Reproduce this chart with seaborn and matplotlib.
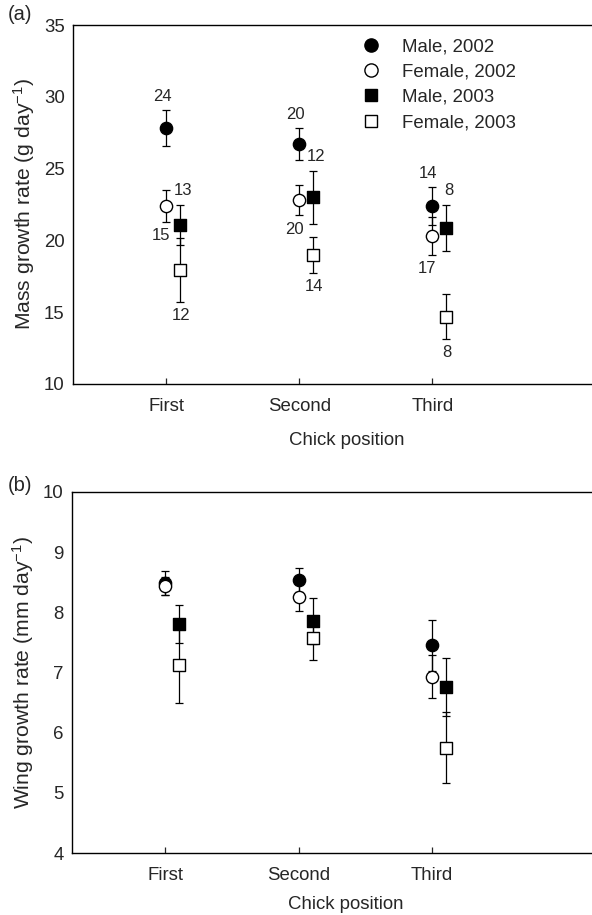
import numpy as np
import pandas as pd
import matplotlib
matplotlib.use("Agg")
import matplotlib.pyplot as plt
import seaborn as sns
from matplotlib.lines import Line2D

# --- data ---
positions = ["First", "Second", "Third"]
groups = ["Male, 2002", "Female, 2002", "Male, 2003", "Female, 2003"]

mass_male_2002 = [27.8, 26.7, 22.4]
mass_male_2002_err = [1.25, 1.1, 1.3]
mass_female_2002 = [22.4, 22.8, 20.3]
mass_female_2002_err = [1.1, 1.05, 1.3]
mass_male_2003 = [21.1, 23.0, 20.85]
mass_male_2003_err = [1.4, 1.85, 1.62]
mass_female_2003 = [17.95, 19.0, 14.7]
mass_female_2003_err = [2.22, 1.27, 1.55]

wing_male_2002 = [8.49, 8.53, 7.45]
wing_male_2002_err = [0.2, 0.2, 0.43]
wing_female_2002 = [8.44, 8.25, 6.93]
wing_female_2002_err = [0.15, 0.22, 0.36]
wing_male_2003 = [7.81, 7.85, 6.76]
wing_male_2003_err = [0.32, 0.38, 0.48]
wing_female_2003 = [7.13, 7.57, 5.75]
wing_female_2003_err = [0.64, 0.37, 0.59]

# sample sizes (panel a)
n_male_2002 = [24, 20, 14]
n_female_2002 = [15, 20, 17]
n_male_2003 = [13, 12, 8]
n_female_2003 = [12, 14, 8]

# --- style ---
sns.set_theme(style="ticks")
plt.rcParams["font.family"] = ["Liberation Sans", "DejaVu Sans"]
plt.rcParams["mathtext.fontset"] = "custom"
plt.rcParams["mathtext.rm"] = "Liberation Sans"
plt.rcParams["mathtext.it"] = "Liberation Sans:italic"
FS = 13.4
FS_YLAB = 15.2

group_style = {
    "Male, 2002":   dict(marker="o", face="black", dx=0.0),
    "Female, 2002": dict(marker="o", face="white", dx=0.0),
    "Male, 2003":   dict(marker="s", face="black", dx=0.105),
    "Female, 2003": dict(marker="s", face="white", dx=0.105),
}
# label offsets in pixels relative to the error bar end
label_offset = {
    "Male, 2002": (-4, 14, "top"),
    "Female, 2002": (-5, -14, "bottom"),
    "Male, 2003": (3, 14, "top"),
    "Female, 2003": (1, -14, "bottom"),
}


def make_df(means, errs):
    rows = []
    for g, m, e in zip(groups, means, errs):
        for i, pos in enumerate(positions):
            rows.append({"group": g, "position": pos,
                         "x": i + group_style[g]["dx"], "y": m[i], "err": e[i]})
    return pd.DataFrame(rows)


mass_df = make_df([mass_male_2002, mass_female_2002, mass_male_2003, mass_female_2003],
                  [mass_male_2002_err, mass_female_2002_err, mass_male_2003_err, mass_female_2003_err])
mass_df["n"] = np.concatenate([n_male_2002, n_female_2002, n_male_2003, n_female_2003])
wing_df = make_df([wing_male_2002, wing_female_2002, wing_male_2003, wing_female_2003],
                  [wing_male_2002_err, wing_female_2002_err, wing_male_2003_err, wing_female_2003_err])

fig = plt.figure(figsize=(5.92, 9.15), dpi=100)
ax_a = fig.add_axes([73 / 592, 1 - 384 / 915, 547 / 592, 359 / 915])
ax_b = fig.add_axes([72 / 592, 1 - 853 / 915, 548 / 592, 361 / 915])


def draw_panel(ax, df, xlabpad):
    # error bars first so markers sit on top
    for g in groups:
        d = df[df["group"] == g]
        ax.errorbar(d["x"], d["y"], yerr=d["err"], fmt="none", ecolor="black",
                    elinewidth=0.9, capsize=2.6, capthick=0.9, zorder=2)
    for k, g in enumerate(groups):
        d = df[df["group"] == g]
        st = group_style[g]
        sns.scatterplot(data=d, x="x", y="y", ax=ax, marker=st["marker"],
                        color=st["face"], edgecolor="black", linewidth=1.0,
                        s=78 if st["marker"] == "o" else 70, legend=False, zorder=3 + k)
    ax.set_xticks(range(len(positions)))
    ax.set_xticklabels(positions)
    ax.set_xlim(-0.7, 3.41)
    ax.set_xlabel("Chick position", fontsize=FS, labelpad=xlabpad)
    ax.tick_params(axis="x", direction="in", length=4, width=0.9, pad=10, labelsize=FS)
    ax.tick_params(axis="y", length=0, pad=6, labelsize=FS)
    for s in ax.spines.values():
        s.set_linewidth(1.0)
        s.set_color("black")
    ax.spines["right"].set_visible(False)


draw_panel(ax_a, mass_df, 12)
ax_a.set_ylim(10, 35)
ax_a.set_yticks(range(10, 36, 5))
ax_a.set_ylabel("Mass growth rate (g day$^{-1}$)", fontsize=FS_YLAB, labelpad=5)

for _, r in mass_df.iterrows():
    dx, dy, side = label_offset[r["group"]]
    yend = r["y"] + r["err"] if side == "top" else r["y"] - r["err"]
    ax_a.annotate(str(r["n"]), (r["x"], yend), xytext=(dx, dy),
                  textcoords="offset pixels", ha="center", va="center", fontsize=12)

handles = [Line2D([], [], linestyle="none", marker=group_style[g]["marker"],
                  markerfacecolor=group_style[g]["face"], markeredgecolor="black",
                  markersize=9.5 if group_style[g]["marker"] == "o" else 8.5,
                  markeredgewidth=1.0) for g in groups]
ax_a.legend(handles, groups, loc="upper left", bbox_to_anchor=(0.487, 1.0), frameon=False,
            fontsize=FS, handletextpad=0.64, labelspacing=0.44, borderaxespad=0.32)

draw_panel(ax_b, wing_df, 9)
ax_b.set_ylim(4, 10)
ax_b.set_yticks(range(4, 11, 1))
ax_b.set_ylabel("Wing growth rate (mm day$^{-1}$)", fontsize=FS_YLAB, labelpad=5)

fig.text(8 / 592, 1 - 15 / 915, "(a)", fontsize=14.5, va="center", ha="left")
fig.text(8 / 592, 1 - 486 / 915, "(b)", fontsize=14.5, va="center", ha="left")

fig.savefig("out.png", dpi=100)
